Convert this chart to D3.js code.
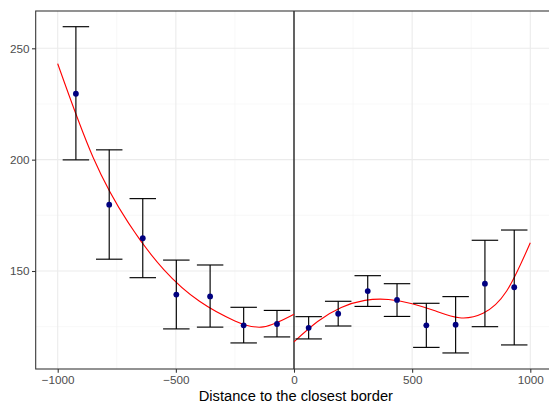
<!DOCTYPE html>
<html>
<head>
<meta charset="utf-8">
<script src="https://cdn.jsdelivr.net/npm/d3@7"></script>
<style>
  body { margin: 0; background: #fff; }
  svg { display: block; font-family: "Liberation Sans", Arial, sans-serif; }
</style>
</head>
<body>
<div id="chart"></div>
<script>
// binned means with confidence intervals
var binX   = [-923, -782, -640, -498, -355, -213, -72, 62, 187, 312, 436, 560, 684, 808, 932];
var binY   = [229.6, 179.8, 164.7, 139.4, 138.6, 125.6, 126.2, 124.5, 130.8, 141.0, 137.0, 125.6, 125.9, 144.3, 142.7];
var binLo  = [199.9, 155.3, 147.0, 124.0, 124.8, 117.7, 120.4, 119.5, 125.3, 134.1, 129.6, 115.7, 113.2, 125.0, 116.8];
var binHi  = [259.7, 204.4, 182.5, 154.9, 152.7, 133.7, 132.3, 129.5, 136.4, 147.9, 144.3, 135.5, 138.5, 163.8, 168.4];

// fitted curve, left of the border
var fitLeftX = [-1000, -850, -700, -550, -400, -250, -130, 0];
var fitLeftY = [243.1, 201.0, 171.5, 150.5, 136.4, 127.6, 124.9, 130.6];
// fitted curve, right of the border
var fitRightX = [0, 100, 200, 300, 400, 500, 600, 700, 800, 900, 1000];
var fitRightY = [118.2, 127.3, 133.6, 136.8, 137.2, 135.3, 132.0, 129.0, 131.0, 141.0, 162.7];

var xTicks = [-1000, -500, 0, 500, 1000];
var xMinor = [-750, -250, 250, 750];
var yTicks = [150, 200, 250];
var yMinor = [125, 175, 225];

var width = 549, height = 406;
var panel = {left: 35.7, top: 11, right: 556, bottom: 369};

var svg = d3.select("#chart").append("svg")
    .attr("width", width)
    .attr("height", height);

var x = d3.scaleLinear().domain([-1000, 1000]).range([57.7, 530.3]);
var y = d3.scaleLinear().domain([150, 250]).range([271, 48.3]);
var capHalf = 56; // half width of error bar caps, in data units

// grid
var grid = svg.append("g");
grid.selectAll(".vminor").data(xMinor).enter().append("line")
    .attr("x1", function(d) { return x(d); }).attr("x2", function(d) { return x(d); })
    .attr("y1", panel.top).attr("y2", panel.bottom)
    .attr("stroke", "#f2f2f2").attr("stroke-width", 0.55);
grid.selectAll(".hminor").data(yMinor).enter().append("line")
    .attr("y1", function(d) { return y(d); }).attr("y2", function(d) { return y(d); })
    .attr("x1", panel.left).attr("x2", panel.right)
    .attr("stroke", "#f2f2f2").attr("stroke-width", 0.55);
grid.selectAll(".vmajor").data(xTicks).enter().append("line")
    .attr("x1", function(d) { return x(d); }).attr("x2", function(d) { return x(d); })
    .attr("y1", panel.top).attr("y2", panel.bottom)
    .attr("stroke", "#ebebeb").attr("stroke-width", 1.07);
grid.selectAll(".hmajor").data(yTicks).enter().append("line")
    .attr("y1", function(d) { return y(d); }).attr("y2", function(d) { return y(d); })
    .attr("x1", panel.left).attr("x2", panel.right)
    .attr("stroke", "#ebebeb").attr("stroke-width", 1.07);

// border at zero
svg.append("line")
    .attr("x1", x(0)).attr("x2", x(0))
    .attr("y1", panel.top).attr("y2", panel.bottom)
    .attr("stroke", "#000").attr("stroke-width", 1.2);

// fitted curves
var line = d3.line()
    .x(function(d) { return x(d[0]); })
    .y(function(d) { return y(d[1]); })
    .curve(d3.curveNatural);
svg.append("path")
    .datum(d3.zip(fitLeftX, fitLeftY))
    .attr("d", line)
    .attr("fill", "none").attr("stroke", "#ff0000").attr("stroke-width", 1.1);
svg.append("path")
    .datum(d3.zip(fitRightX, fitRightY))
    .attr("d", line)
    .attr("fill", "none").attr("stroke", "#ff0000").attr("stroke-width", 1.1);

// error bars
var bins = binX.map(function(v, i) {
    return {x: v, y: binY[i], lo: binLo[i], hi: binHi[i]};
});
var eb = svg.append("g").attr("stroke", "#000").attr("stroke-width", 1.15).attr("fill", "none");
eb.selectAll(".stem").data(bins).enter().append("line")
    .attr("x1", function(d) { return x(d.x); }).attr("x2", function(d) { return x(d.x); })
    .attr("y1", function(d) { return y(d.lo); }).attr("y2", function(d) { return y(d.hi); });
eb.selectAll(".capHi").data(bins).enter().append("line")
    .attr("x1", function(d) { return x(d.x - capHalf); }).attr("x2", function(d) { return x(d.x + capHalf); })
    .attr("y1", function(d) { return y(d.hi); }).attr("y2", function(d) { return y(d.hi); });
eb.selectAll(".capLo").data(bins).enter().append("line")
    .attr("x1", function(d) { return x(d.x - capHalf); }).attr("x2", function(d) { return x(d.x + capHalf); })
    .attr("y1", function(d) { return y(d.lo); }).attr("y2", function(d) { return y(d.lo); });

// points
svg.selectAll(".pt").data(bins).enter().append("circle")
    .attr("cx", function(d) { return x(d.x); })
    .attr("cy", function(d) { return y(d.y); })
    .attr("r", 2.9)
    .attr("fill", "#000080");

// panel border
svg.append("rect")
    .attr("x", panel.left).attr("y", panel.top)
    .attr("width", panel.right - panel.left).attr("height", panel.bottom - panel.top)
    .attr("fill", "none").attr("stroke", "#333333").attr("stroke-width", 1.07);

// axes
var xAxis = d3.axisBottom(x).tickValues(xTicks).tickSize(3.7).tickPadding(2.5)
    .tickFormat(function(d) { return d < 0 ? "\u2212" + Math.abs(d) : d; });
var gx = svg.append("g")
    .attr("transform", "translate(0," + panel.bottom + ")")
    .call(xAxis);
gx.select(".domain").remove();
gx.selectAll("line").attr("stroke", "#333333").attr("stroke-width", 1.07);
gx.selectAll("text").attr("fill", "#4d4d4d").style("font-size", "11.7px");

var yAxis = d3.axisLeft(y).tickValues(yTicks).tickSize(3.7).tickPadding(2.5);
var gy = svg.append("g")
    .attr("transform", "translate(" + panel.left + ",0)")
    .call(yAxis);
gy.select(".domain").remove();
gy.selectAll("line").attr("stroke", "#333333").attr("stroke-width", 1.07);
gy.selectAll("text").attr("fill", "#4d4d4d").style("font-size", "11.7px");

svg.append("text")
    .attr("x", (panel.left + panel.right) / 2)
    .attr("y", 401)
    .attr("text-anchor", "middle")
    .style("font-size", "14.7px")
    .attr("fill", "#000")
    .text("Distance to the closest border");
</script>
</body>
</html>
